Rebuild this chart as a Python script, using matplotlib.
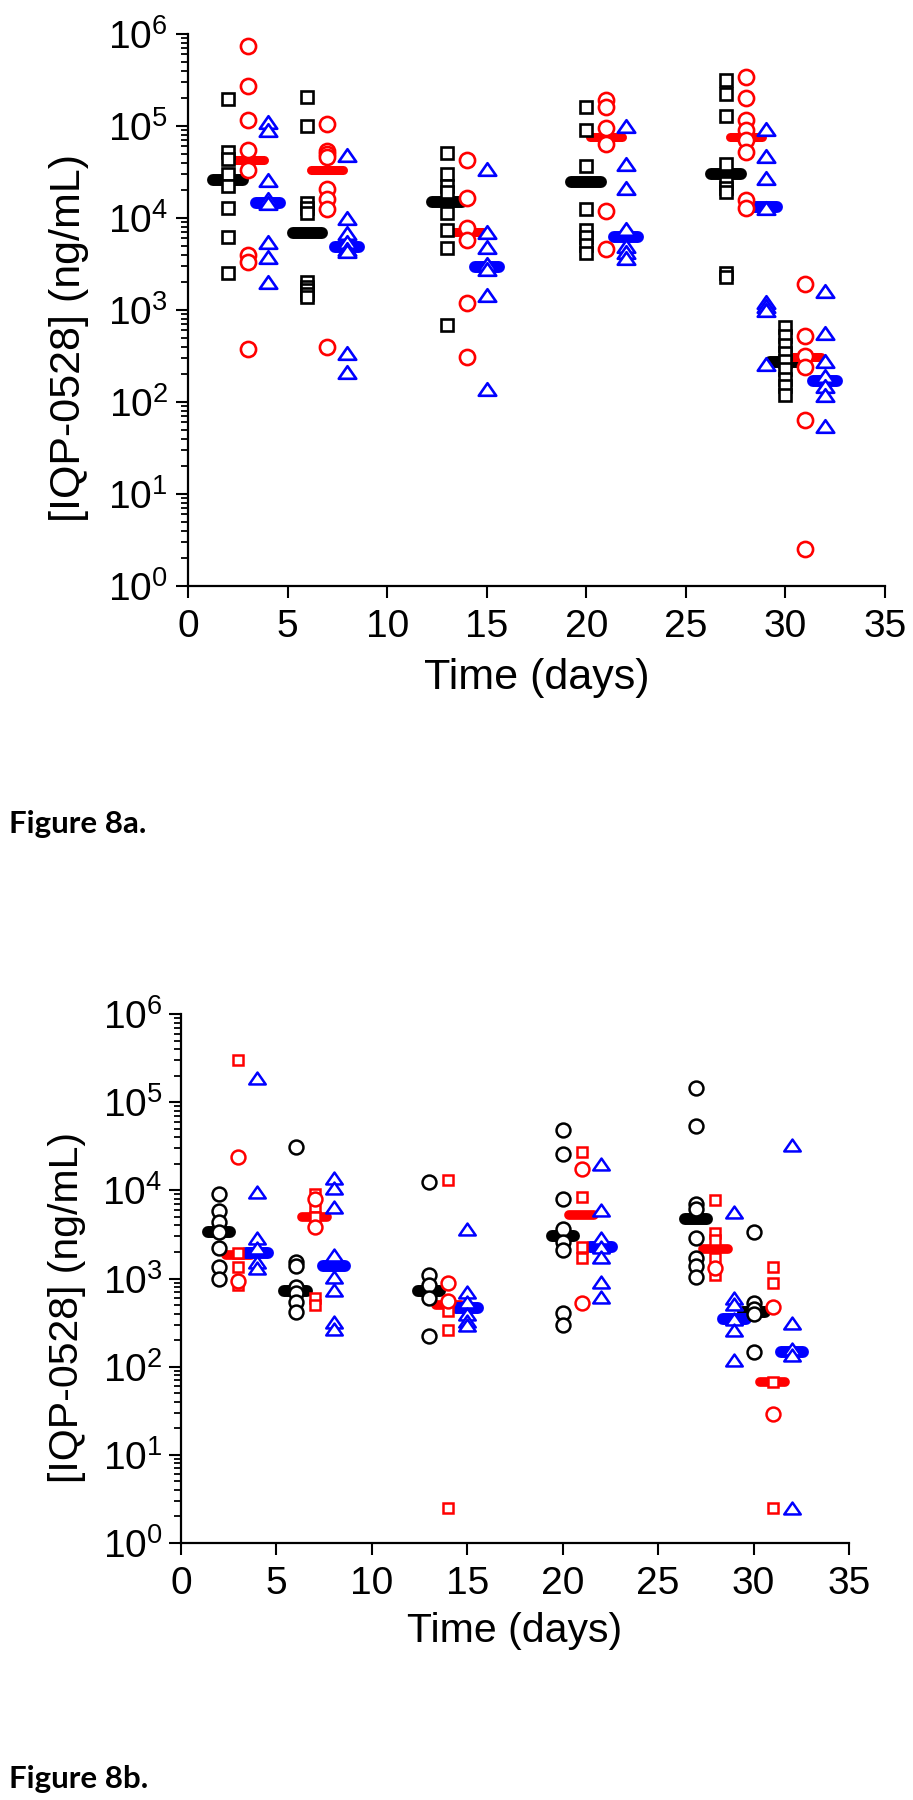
import numpy as np
import matplotlib
matplotlib.use('Agg')
import matplotlib.pyplot as plt
from matplotlib.path import Path
from matplotlib.ticker import LogLocator, NullFormatter, MultipleLocator

plt.rcParams['font.family'] = ['Liberation Sans', 'DejaVu Sans']
plt.rcParams['mathtext.fontset'] = 'custom'
plt.rcParams['mathtext.rm'] = 'Liberation Sans'
plt.rcParams['mathtext.default'] = 'regular'

# ---- Figure 8a: black squares / red circles / blue triangles ----
days_black_a = [2, 6, 13, 20, 27, 30]
days_red_a = [3, 7, 14, 21, 28, 31]
days_blue_a = [4, 8, 15, 22, 29, 32]

black_sq_a = [
    [1.96e5, 5.2e4, 4.4e4, 3.0e4, 2.2e4, 1.3e4, 6.2e3, 2.5e3],
    [2.05e5, 1.0e5, 1.45e4, 1.3e4, 1.12e4, 2.0e3, 1.8e3, 1.65e3, 1.5e3, 1.4e3],
    [5.1e4, 3.0e4, 2.2e4, 1.9e4, 1.13e4, 7.4e3, 4.7e3, 6.9e2],
    [1.6e5, 9.1e4, 3.7e4, 1.26e4, 7.4e3, 6.2e3, 5.1e3, 4.2e3],
    [3.2e5, 2.2e5, 1.3e5, 3.9e4, 2.4e4, 2.1e4, 1.9e4, 2.5e3, 2.3e3],
    [6.5e2, 5.2e2, 4.2e2, 3.4e2, 2.8e2, 2.3e2, 1.8e2, 1.5e2, 1.2e2],
]
red_ci_a = [
    [7.4e5, 2.7e5, 1.17e5, 5.5e4, 3.3e4, 4.0e3, 3.3e3, 3.8e2],
    [1.05e5, 5.4e4, 5.0e4, 4.6e4, 2.05e4, 1.6e4, 1.25e4, 4.0e2],
    [4.3e4, 1.65e4, 7.8e3, 5.8e3, 1.2e3, 3.1e2],
    [1.9e5, 1.6e5, 9.5e4, 6.3e4, 1.2e4, 4.6e3],
    [3.4e5, 2.0e5, 1.17e5, 9.1e4, 7.1e4, 5.2e4, 1.58e4, 1.3e4],
    [1.9e3, 5.2e2, 3.2e2, 2.4e2, 63, 2.5],
]
blue_tr_a = [
    [1.1e5, 9.0e4, 2.6e4, 1.6e4, 1.45e4, 5.5e3, 3.8e3, 2.0e3],
    [4.8e4, 1.0e4, 6.9e3, 5.5e3, 4.6e3, 4.4e3, 3.4e2, 2.1e2],
    [3.4e4, 7.0e3, 4.9e3, 3.2e3, 2.8e3, 1.45e3, 1.4e2],
    [1.0e5, 3.9e4, 2.1e4, 7.5e3, 5.0e3, 4.3e3, 3.7e3],
    [9.3e4, 4.7e4, 2.7e4, 1.3e4, 1.23e3, 1.1e3, 1.0e3, 2.6e2],
    [1.6e3, 5.6e2, 2.8e2, 1.9e2, 1.5e2, 1.2e2, 55],
]
black_med_a = [2.6e4, 6.9e3, 1.5e4, 2.45e4, 3.0e4, 2.7e2]
red_med_a = [4.3e4, 3.3e4, 7.0e3, 7.6e4, 7.6e4, 3.1e2]
blue_med_a = [1.45e4, 4.9e3, 2.9e3, 6.2e3, 1.32e4, 1.7e2]

# ---- Figure 8b: black circles / red squares+circles / blue triangles ----
days_black_b = [2, 6, 13, 20, 27, 30]
days_red_b = [3, 7, 14, 21, 28, 31]
days_blue_b = [4, 8, 15, 22, 29, 32]

black_ci_b = [
    [9.1e3, 5.8e3, 4.4e3, 3.4e3, 2.2e3, 1.35e3, 1.0e3],
    [3.1e4, 1.55e3, 1.4e3, 8.0e2, 6.8e2, 5.4e2, 4.2e2],
    [1.25e4, 1.1e3, 8.5e2, 6.0e2, 2.2e2],
    [4.8e4, 2.6e4, 8.0e3, 3.6e3, 2.6e3, 2.1e3, 4.1e2, 3.0e2],
    [1.45e5, 5.4e4, 7.0e3, 6.2e3, 2.9e3, 1.7e3, 1.38e3, 1.05e3],
    [3.4e3, 5.3e2, 4.5e2, 4.0e2, 1.47e2],
]
red_sq_b = [
    [3.0e5, 1.95e3, 1.35e3, 8.5e2],
    [9.0e3, 6.5e3, 5.0e3, 6.0e2, 5.0e2],
    [1.3e4, 4.3e2, 2.6e2, 2.5],
    [2.7e4, 8.5e3, 2.3e3, 1.7e3],
    [7.8e3, 3.3e3, 2.7e3, 1.7e3, 1.1e3],
    [1.35e3, 9.0e2, 67, 2.5],
]
red_ci_b = [
    [2.4e4, 9.3e2],
    [8.0e3, 3.8e3],
    [8.9e2, 5.5e2],
    [1.75e4, 5.3e2],
    [1.3e3],
    [4.8e2, 29],
]
blue_tr_b = [
    [1.87e5, 9.5e3, 2.9e3, 2.2e3, 1.55e3, 1.3e3],
    [1.38e4, 1.05e4, 6.5e3, 1.85e3, 1.05e3, 7.4e2, 3.2e2, 2.7e2],
    [3.6e3, 7.0e2, 5.4e2, 4.0e2, 3.3e2, 3.0e2],
    [2.0e4, 6.0e3, 2.9e3, 2.3e3, 1.75e3, 9.1e2, 6.2e2],
    [5.7e3, 6.0e2, 5.2e2, 3.5e2, 2.6e2, 1.2e2],
    [3.3e4, 3.1e2, 1.6e2, 1.35e2, 2.5],
]
black_med_b = [3.4e3, 7.2e2, 7.2e2, 3.0e3, 4.7e3, 4.2e2]
red_med_b = [1.85e3, 5.0e3, 5.0e2, 5.2e3, 2.15e3, 67]
blue_med_b = [1.95e3, 1.38e3, 4.6e2, 2.3e3, 3.5e2, 1.45e2]

xticks = [0, 5, 10, 15, 20, 25, 30, 35]

# flattened open triangle
tri = Path([(-1, -0.72), (1, -0.72), (0, 0.72), (-1, -0.72)],
           [Path.MOVETO, Path.LINETO, Path.LINETO, Path.CLOSEPOLY])


def points(ax, days, groups, color, marker, ms, mew):
    for d, vals in zip(days, groups):
        ax.plot([d] * len(vals), vals, ls='none', marker=marker, ms=ms,
                mfc='white', mec=color, mew=mew, zorder=3, clip_on=False)


def medians(ax, days, meds, color, half, lw):
    for d, m in zip(days, meds):
        ax.plot([d - half, d + half], [m, m], color=color, lw=lw,
                solid_capstyle='round', zorder=2)


def style_axes(ax, ypad, label_fs, label_y):
    ax.set_yscale('log')
    ax.set_ylim(1, 1e6)
    ax.set_xlim(0, 35)
    ax.set_xticks(xticks)
    ax.xaxis.set_minor_locator(plt.NullLocator())
    ax.yaxis.set_major_locator(LogLocator(base=10, numticks=10))
    ax.yaxis.set_minor_locator(LogLocator(base=10, subs=np.arange(2, 10), numticks=20))
    ax.yaxis.set_minor_formatter(NullFormatter())
    for s in ['top', 'right']:
        ax.spines[s].set_visible(False)
    for s in ['left', 'bottom']:
        ax.spines[s].set_linewidth(1.6)
    ax.tick_params(which='major', direction='out', length=8.5, width=1.5,
                   labelsize=28)
    ax.tick_params(which='minor', direction='out', length=5, width=1.3)
    ax.tick_params(axis='x', pad=8)
    ax.tick_params(axis='y', pad=ypad)
    ax.set_xlabel('Time (days)', fontsize=label_fs)
    ax.set_ylabel('[IQP-0528] (ng/mL)', fontsize=label_fs)
    ax.xaxis.set_label_coords(0.5, -0.130)
    ax.yaxis.set_label_coords(-0.142, label_y)


fig = plt.figure(figsize=(9.13, 18), dpi=100)

ax1 = fig.add_axes([188 / 913, 1 - 586 / 1800, 697 / 913, 552 / 1800])
medians(ax1, days_black_a, black_med_a, 'black', 0.75, 8.6)
medians(ax1, days_red_a, red_med_a, 'red', 0.8, 6.5)
medians(ax1, days_blue_a, blue_med_a, 'blue', 0.6, 8.6)
points(ax1, days_black_a, black_sq_a, 'black', 's', 8.4, 1.9)
points(ax1, days_red_a, red_ci_a, 'red', 'o', 10.9, 1.9)
points(ax1, days_blue_a, blue_tr_a, 'blue', tri, 12.6, 1.9)
style_axes(ax1, 6, 31, 0.449)

ax2 = fig.add_axes([181 / 913, 1 - 1543 / 1800, 668 / 913, 529 / 1800])
medians(ax2, days_black_b, black_med_b, 'black', 0.58, 8.6)
medians(ax2, days_red_b, red_med_b, 'red', 0.65, 7.0)
medians(ax2, days_blue_b, blue_med_b, 'blue', 0.58, 8.6)
points(ax2, days_black_b, black_ci_b, 'black', 'o', 10.0, 1.8)
points(ax2, days_red_b, red_sq_b, 'red', 's', 7.8, 1.8)
points(ax2, days_red_b, red_ci_b, 'red', 'o', 10.0, 1.8)
points(ax2, days_blue_b, blue_tr_b, 'blue', tri, 11.9, 1.8)
style_axes(ax2, 5, 29.5, 0.446)

fig.text(9 / 913, 1 - 833 / 1800, 'Figure 8a.', family='Lato', fontweight='bold',
         fontsize=22.5, ha='left', va='baseline')
fig.text(9 / 913, 1 - 1788 / 1800, 'Figure 8b.', family='Lato', fontweight='bold',
         fontsize=22.5, ha='left', va='baseline')

fig.savefig('out.png', dpi=100)
